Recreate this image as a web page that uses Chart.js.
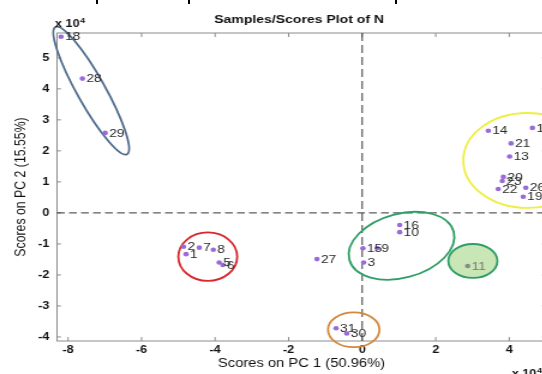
<!DOCTYPE html>
<html>
<head>
<meta charset="utf-8">
<title>Samples/Scores Plot of N</title>
<script src="https://cdn.jsdelivr.net/npm/chart.js@4/dist/chart.umd.min.js"></script>
<style>
  html, body { margin: 0; padding: 0; background: #fff; overflow: hidden; }
  /* the source figure is stretched sideways, so the canvas is too */
  #wrap { position: absolute; left: 0; top: 0; width: 470px; height: 374px;
          transform: scaleX(1.2); transform-origin: 0 0; }
  .cut { position: absolute; top: 0; width: 2px; height: 4px; background: #000; }
</style>
</head>
<body>
<div id="wrap"><canvas id="scores" width="470" height="374"></canvas></div>
<div class="cut" style="left:96px"></div>
<div class="cut" style="left:188px"></div>
<div class="cut" style="left:395px"></div>
<script>
// sample scores (x 10^4)
const sampleIds = ['1', '2', '3', '5', '6', '7', '8', '9', '10', '11', '13', '14', '15', '16',
                   '17', '18', '19', '20', '21', '22', '23', '26', '27', '28', '29', '30', '31'];
const pc1Scores = [-4.79, -4.86, 0.04, -3.89, -3.79, -4.43, -4.05, 0.41, 1.02, 2.87, 4.01, 3.43, 0.02, 1.02,
                   4.63, -8.19, 4.38, 3.84, 4.05, 3.70, 3.81, 4.45, -1.23, -7.61, -6.99, -0.42, -0.71];
const pc2Scores = [-1.33, -1.09, -1.60, -1.60, -1.68, -1.12, -1.19, -1.14, -0.62, -1.71, 1.82, 2.65, -1.14, -0.39,
                   2.74, 5.68, 0.52, 1.16, 2.24, 0.77, 1.03, 0.81, -1.49, 4.33, 2.58, -3.89, -3.72];

const xTickValues = [-8, -6, -4, -2, 0, 2, 4];
const yTickValues = [-4, -3, -2, -1, 0, 1, 2, 3, 4, 5];

// group ellipses: centre and two semi-axis vectors, in score units
const ellipseCx = [-7.37, -4.20, 1.07, 3.01, -0.23, 4.49];
const ellipseCy = [3.94, -1.41, -1.06, -1.55, -3.77, 1.69];
const ellipseU = [[0.974, -2.05], [0.80, 0], [1.419, 0.451], [0.667, 0], [0.70, 0], [1.74, 0]];
const ellipseV = [[-0.332, -0.223], [0, 0.78], [0.225, -0.997], [0, 0.548], [0, 0.56], [0, 1.53]];
const ellipseColors = ['#4e6c8c', '#d8282c', '#2f9e66', '#2f9e66', '#d4883a', '#eeee44'];
const ellipseFills = [null, null, null, '#c9e7b6', null, null];

const FONT = '"Liberation Sans", Arial, sans-serif';
const PURPLE = '#9a6ad8';
const GREY_PT = '#8a8a8a';

const points = sampleIds.map((id, i) => ({ x: pc1Scores[i], y: pc2Scores[i] }));

function traceEllipse(ctx, xs, ys, i) {
    const cx = ellipseCx[i], cy = ellipseCy[i];
    const px = xs.getPixelForValue(cx), py = ys.getPixelForValue(cy);
    const ux = xs.getPixelForValue(cx + ellipseU[i][0]) - px;
    const uy = ys.getPixelForValue(cy + ellipseU[i][1]) - py;
    const vx = xs.getPixelForValue(cx + ellipseV[i][0]) - px;
    const vy = ys.getPixelForValue(cy + ellipseV[i][1]) - py;
    ctx.save();
    ctx.beginPath();
    ctx.transform(ux, uy, vx, vy, px, py);
    ctx.arc(0, 0, 1, 0, Math.PI * 2);
    ctx.restore();
}

const decorations = {
    id: 'decorations',
    beforeDatasetsDraw(chart) {
        const { ctx, chartArea: a, scales: { x, y } } = chart;
        ctx.save();

        // frame and inward ticks
        ctx.strokeStyle = '#8c8c8c';
        ctx.lineWidth = 1;
        ctx.strokeRect(a.left, a.top, a.right - a.left, a.bottom - a.top);
        ctx.beginPath();
        xTickValues.forEach(v => {
            const px = x.getPixelForValue(v);
            ctx.moveTo(px, a.bottom); ctx.lineTo(px, a.bottom - 4);
            ctx.moveTo(px, a.top); ctx.lineTo(px, a.top + 4);
        });
        yTickValues.forEach(v => {
            const py = y.getPixelForValue(v);
            ctx.moveTo(a.left, py); ctx.lineTo(a.left + 3.3, py);
            ctx.moveTo(a.right, py); ctx.lineTo(a.right - 3.3, py);
        });
        ctx.stroke();

        // dashed zero lines
        ctx.strokeStyle = '#333';
        ctx.lineWidth = 1;
        const y0 = y.getPixelForValue(0), x0 = x.getPixelForValue(0);
        ctx.setLineDash([6.5, 3.5]);
        ctx.beginPath(); ctx.moveTo(a.left, y0); ctx.lineTo(a.right, y0); ctx.stroke();
        ctx.setLineDash([8, 4]);
        ctx.beginPath(); ctx.moveTo(x0, a.top); ctx.lineTo(x0, a.bottom); ctx.stroke();
        ctx.setLineDash([]);

        // group ellipses
        ellipseCx.forEach((_, i) => {
            traceEllipse(ctx, x, y, i);
            if (ellipseFills[i]) { ctx.fillStyle = ellipseFills[i]; ctx.fill(); }
            ctx.strokeStyle = ellipseColors[i];
            ctx.lineWidth = 1.8;
            ctx.stroke();
        });
        ctx.restore();
    },
    afterDatasetsDraw(chart) {
        const { ctx, scales: { x, y } } = chart;
        ctx.save();
        ctx.font = '11.5px ' + FONT;
        ctx.textBaseline = 'middle';
        ctx.textAlign = 'left';
        sampleIds.forEach((id, i) => {
            ctx.fillStyle = id === '11' ? '#777' : '#2a2a2a';
            ctx.fillText(id, x.getPixelForValue(pc1Scores[i]) + 3.3, y.getPixelForValue(pc2Scores[i]) + 0.5);
        });
        ctx.restore();
    },
    afterDraw(chart) {
        const { ctx, chartArea: a } = chart;
        ctx.save();
        ctx.fillStyle = '#111';
        ctx.textAlign = 'center';
        ctx.textBaseline = 'middle';
        ctx.font = 'bold 11.7px ' + FONT;
        ctx.fillText('Samples/Scores Plot of N', (a.left + a.right) / 2 - 2, 20);

        // exponent markers
        ctx.textAlign = 'left';
        ctx.textBaseline = 'alphabetic';
        const expLabel = (lx, by) => {
            ctx.font = 'bold 10.5px ' + FONT;
            ctx.fillText('x 10', lx, by);
            const w = ctx.measureText('x 10').width;
            ctx.font = 'bold 7.5px ' + FONT;
            ctx.fillText('4', lx + w + 0.5, by - 4.5);
        };
        expLabel(a.left - 1.7, 27);
        expLabel(426.5, 377);
        ctx.restore();
    }
};

new Chart(document.getElementById('scores'), {
    type: 'scatter',
    data: {
        datasets: [{
            data: points,
            pointRadius: 2.3,
            pointBorderWidth: 0,
            pointBackgroundColor: c => sampleIds[c.dataIndex] === '11' ? GREY_PT : PURPLE,
            pointBorderColor: 'rgba(0,0,0,0)'
        }]
    },
    options: {
        responsive: false,
        animation: false,
        events: [],
        layout: { padding: { left: 0, right: 15, top: 33, bottom: 0 } },
        plugins: { legend: { display: false }, tooltip: { enabled: false }, title: { display: false } },
        scales: {
            x: {
                type: 'linear',
                min: -8.3,
                max: 5.0,
                afterBuildTicks: s => { s.ticks = xTickValues.map(v => ({ value: v })); },
                afterFit: s => { s.height = 33; },
                grid: { display: false, drawTicks: false },
                border: { display: false },
                ticks: { padding: 3, color: '#111', autoSkip: false, maxRotation: 0,
                         font: { family: FONT, size: 10.5, weight: 'bold' } },
                title: { display: true, text: 'Scores on PC 1 (50.96%)', color: '#111',
                         font: { family: FONT, size: 12.3 }, padding: { top: 0, bottom: 3 } }
            },
            y: {
                type: 'linear',
                min: -4.13,
                max: 5.8,
                afterBuildTicks: s => { s.ticks = yTickValues.map(v => ({ value: v })); },
                afterFit: s => { s.width = 47.5; },
                grid: { display: false, drawTicks: false },
                border: { display: false },
                ticks: { padding: 6.5, color: '#111', autoSkip: false,
                         font: { family: FONT, size: 10.5, weight: 'bold' } },
                title: { display: true, text: 'Scores on PC 2 (15.55%)', color: '#111',
                         font: { family: FONT, size: 12.3 }, padding: { top: 10, bottom: 0 } }
            }
        }
    },
    plugins: [decorations]
});
</script>
</body>
</html>
